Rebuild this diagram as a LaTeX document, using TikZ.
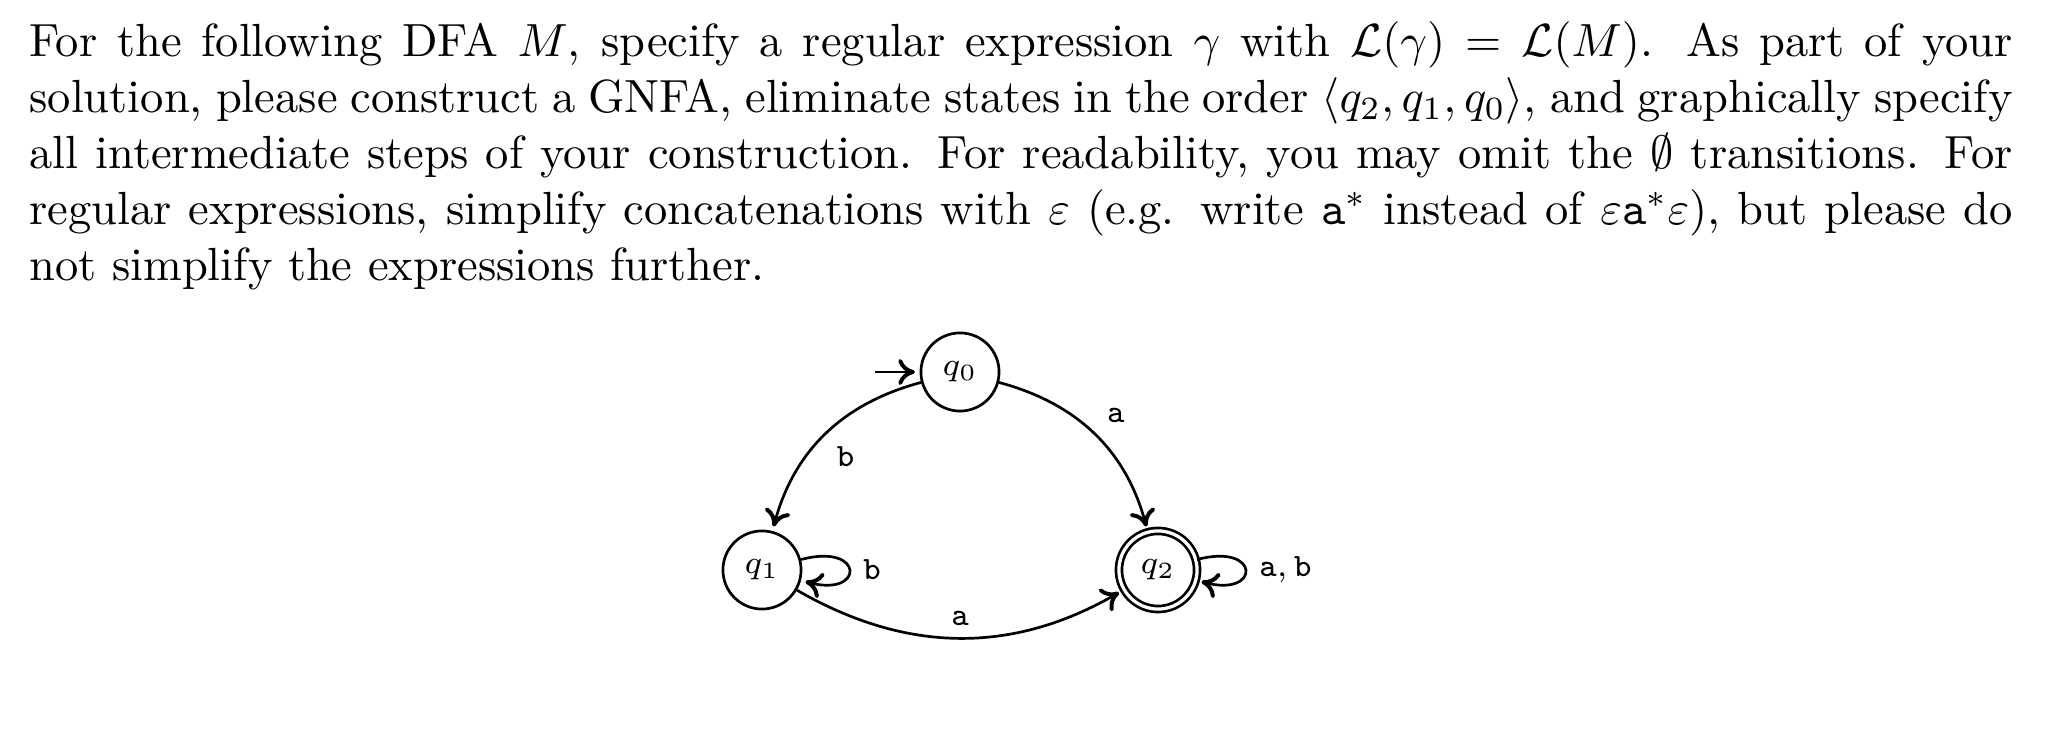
\documentclass[tikz,border=0pt]{standalone}
\usetikzlibrary{automata,positioning,arrows.meta}
\begin{document}
\begin{tikzpicture}[x=0.21505pt, y=-0.21505pt,
  >={Computer Modern Rightarrow[length=3.6pt, width=5.6pt, line width=0.85pt]},
  diag/.style={font=\fontsize{7}{8.4}\selectfont},
  every state/.style={draw, line width=0.58pt, minimum size=16.8pt, inner sep=0pt, diag},
  accepting/.style={double, double distance=0.7pt},
  trans/.style={->, line width=0.58pt, shorten >=1pt},
  lbl/.style={diag, auto, inner sep=2.3pt},
  looplbl/.style={diag, auto, inner sep=2.8pt},
  prose/.style={anchor=base west, text width=426.5pt, align=justify, inner sep=0pt, font=\fontsize{10}{12}\selectfont}]
\fill[white] (0,0) rectangle (2056,748);
\useasboundingbox (0,0) rectangle (2056,748);
\node[prose] (txt) at (28.5,57) {For the following DFA $M$, specify a regular expression $\gamma$ with $\mathcal{L}(\gamma) = \mathcal{L}(M)$. As part of your\linebreak
solution, please construct a GNFA, eliminate states in the order $\langle q_2, q_1, q_0\rangle$, and graphically specify\linebreak
all intermediate steps of your construction. For readability, you may omit the $\emptyset$ transitions. For\linebreak
regular expressions, simplify concatenations with $\varepsilon$ (e.g. write $\mathtt{a}^*$ instead of $\varepsilon\mathtt{a}^*\varepsilon$), but please do\linebreak
not simplify the expressions further.};

\node[state] (q0) at (960,372) {$q_0$};
\node[state] (q1) at (762,570) {$q_1$};
\node[state, accepting] (q2) at (1158,570) {$q_2$};
\coordinate (init) at (875,372);

\draw[trans] (init) -- (q0);
\path[trans] (q0) edge[bend right] node[lbl] {$\mathtt{b}$} (q1)
             (q0) edge[bend left] node[lbl] {$\mathtt{a}$} (q2)
             (q1) edge[bend right] node[lbl] {$\mathtt{a}$} (q2)
             (q1) edge[loop right] node[looplbl] {$\mathtt{b}$} (q1)
             (q2) edge[loop right] node[looplbl] {$\mathtt{a},\mathtt{b}$} (q2);
\end{tikzpicture}
\end{document}
